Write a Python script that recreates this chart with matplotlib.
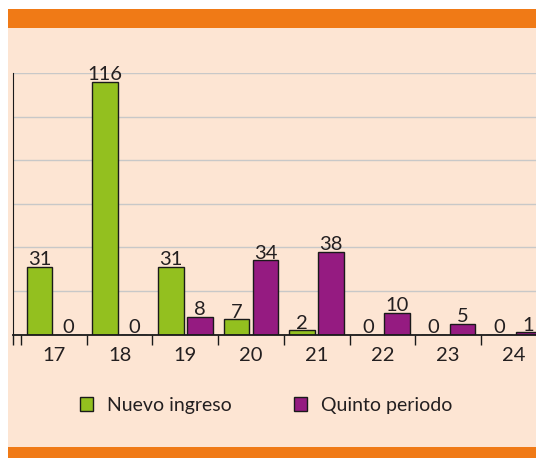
import numpy as np
import matplotlib.pyplot as plt
from matplotlib.patches import Rectangle, Patch

# datos
edades = ['17', '18', '19', '20', '21', '22', '23', '24']
nuevo_ingreso = [31, 116, 31, 7, 2, 0, 0, 0]
quinto_periodo = [0, 0, 8, 34, 38, 10, 5, 1]

verde = '#93C01F'
morado = '#951B81'
naranja = '#F07A16'
fondo = '#FDE5D3'
texto = '#231F20'

plt.rcParams['font.family'] = ['Lato', 'DejaVu Sans']

W, H = 536, 458
fig = plt.figure(figsize=(W / 100, H / 100), dpi=100)
fig.patch.set_facecolor('white')

# panel de fondo y franjas naranjas
fig.patches.append(Rectangle((8 / W, 0), 1 - 8 / W, 1 - 9 / H, transform=fig.transFigure,
                             facecolor=fondo, edgecolor='none', zorder=-10))
fig.patches.append(Rectangle((8 / W, 1 - 28 / H), 1 - 8 / W, 19 / H, transform=fig.transFigure,
                             facecolor=naranja, edgecolor='none', zorder=-9))
fig.patches.append(Rectangle((8 / W, 0), 1 - 8 / W, 1 - 447 / H, transform=fig.transFigure,
                             facecolor=naranja, edgecolor='none', zorder=-9))

ax = fig.add_axes([13 / W, 1 - 334.5 / H, 1 - 13 / W, (334.5 - 73) / H])
ax.set_facecolor('none')

x = np.arange(len(edades))
ancho = 0.39
off = 0.222
b1 = ax.bar(x - off, nuevo_ingreso, ancho, color=verde, edgecolor='#1a1a1a', linewidth=1.0, zorder=3)
b2 = ax.bar(x + off, quinto_periodo, ancho, color=morado, edgecolor='#1a1a1a', linewidth=1.0, zorder=3)

for barras in (b1, b2):
    for r in barras:
        h = r.get_height()
        ax.annotate(f'{int(h)}', (r.get_x() + r.get_width() / 2, h), xytext=(0, -1),
                    textcoords='offset points', ha='center', va='bottom',
                    fontsize=14.5, color=texto, zorder=4, annotation_clip=False)

ax.set_xlim(-0.623, 7.338)
ax.set_ylim(0, 120)
ax.set_yticks(np.arange(0, 121, 20))
ax.yaxis.grid(True, color='#C8C8C8', linewidth=1.0, zorder=0)
ax.tick_params(axis='y', length=0, labelleft=False)

ax.set_xticks(x)
ax.set_xticklabels(edades, fontsize=14.5, color=texto)
ax.set_xticks(np.append(x - 0.5, -0.623), minor=True)
ax.tick_params(axis='x', which='major', length=0, pad=9)
ax.tick_params(axis='x', which='minor', length=7, width=1, color='#1a1a1a', direction='out')

for s in ('top', 'right'):
    ax.spines[s].set_visible(False)
ax.spines['left'].set_color('#1a1a1a')
ax.spines['bottom'].set_color('#1a1a1a')
ax.spines['bottom'].set_zorder(4)
ax.spines['bottom'].set_linewidth(1.3)

handles = [Patch(facecolor=verde, edgecolor='#1a1a1a', linewidth=1.0),
           Patch(facecolor=morado, edgecolor='#1a1a1a', linewidth=1.0)]
leg = fig.legend(handles, ['Nuevo ingreso', 'Quinto periodo'], loc='center',
                 bbox_to_anchor=(266 / W, 1 - 405 / H), ncol=2, frameon=False,
                 fontsize=14, handlelength=0.7, handleheight=0.7, handletextpad=0.7,
                 columnspacing=3.2)
for t in leg.get_texts():
    t.set_color(texto)

fig.savefig('out.png', dpi=100)
